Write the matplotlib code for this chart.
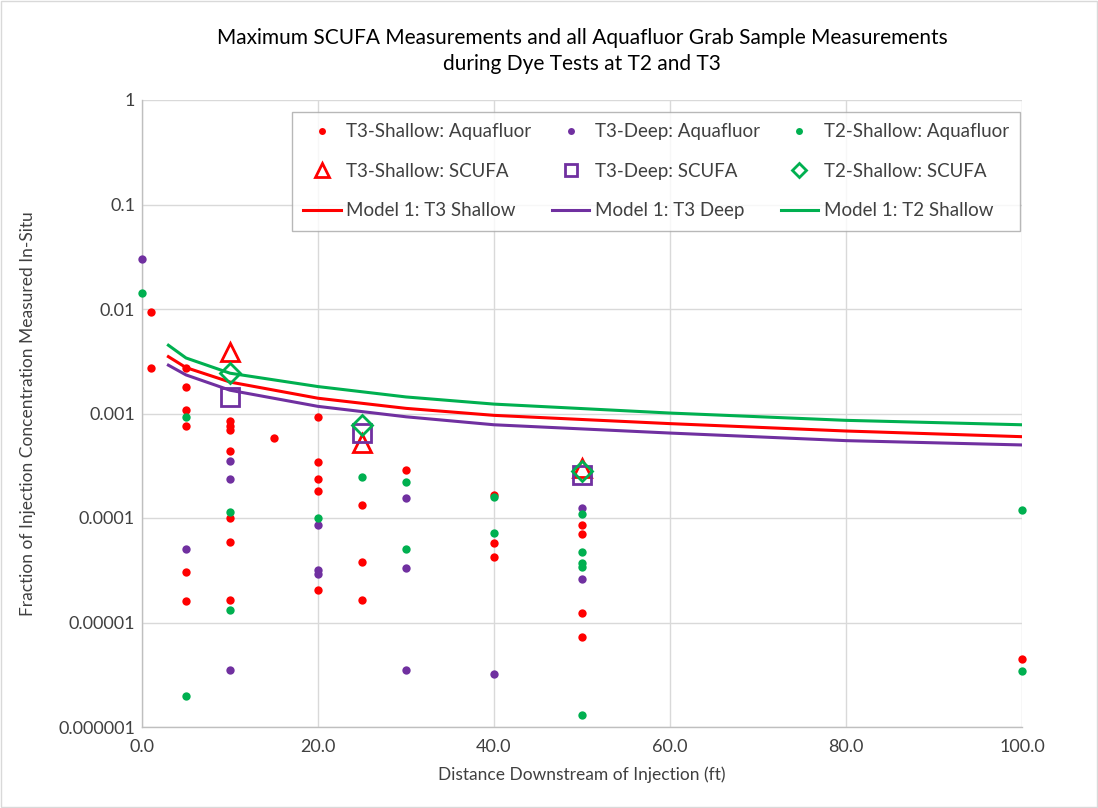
import matplotlib
matplotlib.use("Agg")
import matplotlib.pyplot as plt
from matplotlib.ticker import FixedLocator, FixedFormatter, NullLocator
from matplotlib.lines import Line2D

plt.rcParams['font.family'] = ['Lato', 'DejaVu Sans']

RED = '#FF0000'
PURPLE = '#7030A0'
GREEN = '#00B050'

# T3-Shallow Aquafluor
t3s_aq_x = [1, 1, 5, 5, 5, 5, 5, 5, 10, 10, 10, 10, 10, 10, 10, 15, 20, 20, 20, 20, 20,
            25, 25, 25, 30, 40, 40, 40, 50, 50, 50, 50, 100]
t3s_aq_y = [0.0093, 0.00275, 0.00275, 0.00179, 0.00107, 0.00076, 3.06e-5, 1.6e-5,
            0.00084, 0.00076, 0.0007, 0.00044, 1.0e-4, 5.9e-5, 1.64e-5,
            0.00058, 0.00092, 0.000343, 0.000238, 0.00018, 2.04e-5,
            0.000133, 3.77e-5, 1.64e-5, 0.00029, 0.000167, 5.8e-5, 4.2e-5,
            8.5e-5, 7.0e-5, 1.23e-5, 7.2e-6, 4.5e-6]

# T3-Deep Aquafluor
t3d_aq_x = [0, 5, 10, 10, 10, 20, 20, 20, 30, 30, 30, 40, 50, 50]
t3d_aq_y = [0.030, 5.0e-5, 0.000348, 0.000236, 3.5e-6, 8.6e-5, 3.2e-5, 2.9e-5,
            0.000156, 3.3e-5, 3.5e-6, 3.2e-6, 0.000126, 2.6e-5]

# T2-Shallow Aquafluor
t2s_aq_x = [0, 5, 5, 10, 10, 20, 25, 30, 30, 40, 40, 50, 50, 50, 50, 50, 100, 100]
t2s_aq_y = [0.0143, 0.00092, 2.0e-6, 0.000113, 1.32e-5, 1.0e-4, 0.000248, 0.000221, 5.1e-5,
            0.000159, 7.2e-5, 0.00011, 4.7e-5, 3.7e-5, 3.4e-5, 1.3e-6, 0.00012, 3.4e-6]

# SCUFA maxima
scufa_x = [10, 25, 50]
t3s_scufa_y = [0.0039, 0.00052, 0.00030]
t3d_scufa_y = [0.00145, 0.00065, 0.00026]
t2s_scufa_y = [0.00243, 0.00078, 0.00028]

# Model 1 curves
model_x = [3, 5, 10, 20, 30, 40, 60, 80, 100]
model_t3s = [0.0035, 0.00275, 0.0020, 0.0014, 0.00112, 0.00096, 0.0008, 0.00068, 0.0006]
model_t3d = [0.0029, 0.00234, 0.00167, 0.00117, 0.00093, 0.00078, 0.00065, 0.00055, 0.0005]
model_t2s = [0.0045, 0.0034, 0.00243, 0.00181, 0.00144, 0.00123, 0.00101, 0.00086, 0.00078]

x_ticks = [0, 20, 40, 60, 80, 100]
y_ticks = [1e-6, 1e-5, 1e-4, 1e-3, 1e-2, 1e-1, 1]
y_tick_labels = ['0.000001', '0.00001', '0.0001', '0.001', '0.01', '0.1', '1']

fig = plt.figure(figsize=(10.98, 8.08), dpi=100)
ax = fig.add_axes([142/1098, 1 - 727/808, (1022-142)/1098, (727-100)/808])

lw = 2.2
ax.plot(model_x, model_t3s, color=RED, lw=lw, zorder=2)
ax.plot(model_x, model_t3d, color=PURPLE, lw=lw, zorder=2)
ax.plot(model_x, model_t2s, color=GREEN, lw=lw, zorder=2)

ms = 6
ax.plot(t3s_aq_x, t3s_aq_y, 'o', color=RED, ms=ms, mec='none', zorder=3, clip_on=False)
ax.plot(t3d_aq_x, t3d_aq_y, 'o', color=PURPLE, ms=ms, mec='none', zorder=3, clip_on=False)
ax.plot(t2s_aq_x, t2s_aq_y, 'o', color=GREEN, ms=ms, mec='none', zorder=3, clip_on=False)

ax.plot(scufa_x, t3s_scufa_y, '^', mfc='none', mec=RED, mew=2, ms=13, zorder=4, ls='none')
ax.plot(scufa_x, t3d_scufa_y, 's', mfc='none', mec=PURPLE, mew=2, ms=13, zorder=4, ls='none')
ax.plot(scufa_x, t2s_scufa_y, 'D', mfc='none', mec=GREEN, mew=2, ms=10, zorder=4, ls='none')

ax.set_yscale('log')
ax.set_xlim(0, 100)
ax.set_ylim(1e-6, 1)
ax.xaxis.set_major_locator(FixedLocator(x_ticks))
ax.set_xticklabels([f'{v:.1f}' for v in x_ticks])
ax.yaxis.set_major_locator(FixedLocator(y_ticks))
ax.yaxis.set_major_formatter(FixedFormatter(y_tick_labels))
ax.yaxis.set_minor_locator(NullLocator())
ax.tick_params(axis='both', length=0, labelsize=13, colors='#404040')
ax.tick_params(axis='y', pad=5)
ax.tick_params(axis='x', pad=9)
ax.grid(True, color='#D9D9D9', lw=1)
ax.set_axisbelow(True)
for s in ['top', 'right']:
    ax.spines[s].set_visible(False)
for s in ['left', 'bottom']:
    ax.spines[s].set_color('#BFBFBF')
    ax.spines[s].set_linewidth(1)

ax.set_xlabel('Distance Downstream of Injection (ft)', fontsize=12.5, color='#404040', labelpad=8)
ax.set_ylabel('Fraction of Injection Concentration Measured In-Situ', fontsize=12.5,
              color='#404040', labelpad=16)
fig.text((142+1022)/2/1098, 1 - 51/808,
         'Maximum SCUFA Measurements and all Aquafluor Grab Sample Measurements\nduring Dye Tests at T2 and T3',
         ha='center', va='center', fontsize=15, color='black', linespacing=1.35)

h_a1 = Line2D([], [], marker='o', color=RED, ls='none', ms=5, mec='none')
h_a2 = Line2D([], [], marker='o', color=PURPLE, ls='none', ms=5, mec='none')
h_a3 = Line2D([], [], marker='o', color=GREEN, ls='none', ms=5, mec='none')
h_s1 = Line2D([], [], marker='^', mfc='none', mec=RED, mew=2, ms=10, ls='none')
h_s2 = Line2D([], [], marker='s', mfc='none', mec=PURPLE, mew=2, ms=9, ls='none')
h_s3 = Line2D([], [], marker='D', mfc='none', mec=GREEN, mew=2, ms=7, ls='none')
h_l1 = Line2D([], [], color=RED, lw=lw)
h_l2 = Line2D([], [], color=PURPLE, lw=lw)
h_l3 = Line2D([], [], color=GREEN, lw=lw)

handles = [h_a1, h_s1, h_l1, h_a2, h_s2, h_l2, h_a3, h_s3, h_l3]
labels = ['T3-Shallow: Aquafluor', 'T3-Shallow: SCUFA', 'Model 1: T3 Shallow',
          'T3-Deep: Aquafluor', 'T3-Deep: SCUFA', 'Model 1: T3 Deep',
          'T2-Shallow: Aquafluor', 'T2-Shallow: SCUFA', 'Model 1: T2 Shallow']
leg = ax.legend(handles, labels, ncol=3, loc='upper left',
                bbox_to_anchor=(150/880, 1 - 231/627 + 100/627, 728/880, 119/627),
                mode='expand', fontsize=13.5, frameon=True, fancybox=False,
                edgecolor='#A6A6A6', handlelength=2.0, handletextpad=0.3,
                labelspacing=1.2, borderaxespad=0, borderpad=0.6, columnspacing=0.8)
leg.get_frame().set_linewidth(1)
for t in leg.get_texts():
    t.set_color('#404040')

fig.patches.append(plt.Rectangle((0.001, 0.001), 0.998, 0.998, transform=fig.transFigure,
                                 fill=False, edgecolor='#D9D9D9', lw=1))

fig.savefig('out.png', dpi=100)
